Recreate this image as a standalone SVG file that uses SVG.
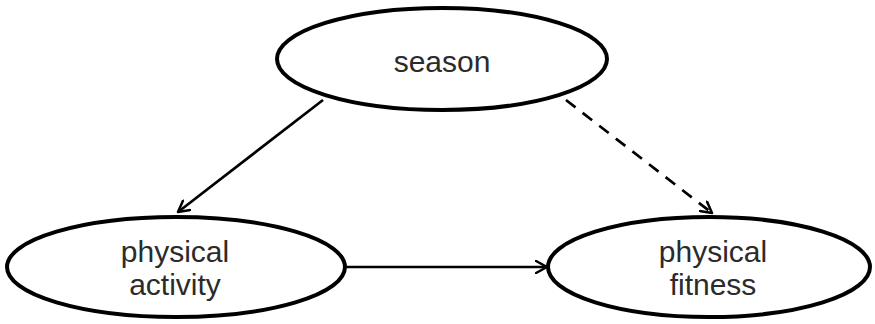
<svg xmlns="http://www.w3.org/2000/svg" width="875" height="324" viewBox="0 0 875 324">
  <style>
    .node ellipse { fill: #ffffff; stroke: #000000; stroke-width: 4; }
    .node text { font-family: "Liberation Sans", Arial, sans-serif; font-size: 30px; fill: #2b2b2b; text-anchor: middle; }
    .edge { stroke: #000000; stroke-width: 2.7; fill: none; marker-end: url(#open-arrow); }
    .dashed { stroke-dasharray: 12 9; }
  </style>
  <defs>
    <marker id="open-arrow" viewBox="0 0 14 14" refX="12" refY="7" markerWidth="14" markerHeight="14" markerUnits="userSpaceOnUse" orient="auto">
      <path d="M1,1 L12,7 L1,13" fill="none" stroke="#000" stroke-width="2.5" stroke-linecap="round" stroke-linejoin="round"/>
    </marker>
  </defs>

  <g id="connectors">
    <line class="edge" x1="323" y1="100" x2="178" y2="212"/>
    <line class="edge dashed" x1="566" y1="100" x2="712" y2="213"/>
    <line class="edge" x1="346" y1="267" x2="547" y2="267"/>
  </g>

  <g id="season" class="node">
    <ellipse cx="442" cy="59" rx="165" ry="51"/>
    <text x="442" y="72">season</text>
  </g>

  <g id="physical-activity" class="node">
    <ellipse cx="176" cy="267" rx="169" ry="50"/>
    <text x="175" y="262">physical</text>
    <text x="175" y="295">activity</text>
  </g>

  <g id="physical-fitness" class="node">
    <ellipse cx="709" cy="267" rx="161" ry="50"/>
    <text x="713" y="262">physical</text>
    <text x="713" y="295">fitness</text>
  </g>
</svg>
